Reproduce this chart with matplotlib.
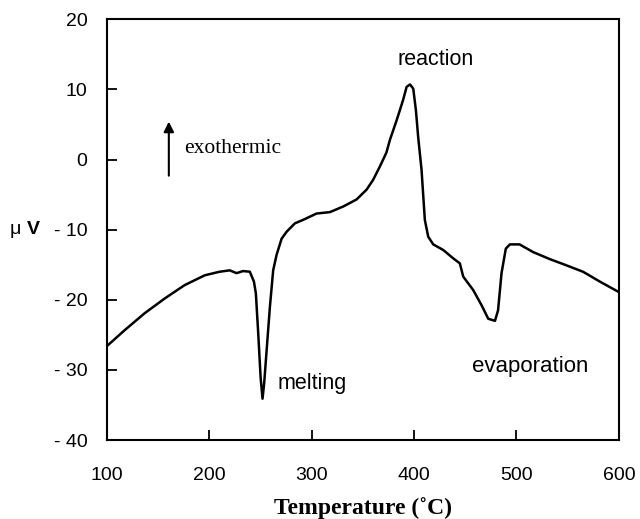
import numpy as np
from matplotlib import pyplot as plt

# DTA trace
temp = [100, 117.6, 137, 156.6, 176, 195.7, 210, 220, 226.6, 233, 239.6, 243.6, 245.5,
        247.8, 250.1, 252, 253.6, 256, 259.2, 262.4, 265.7, 270.6, 275.5, 283.6,
        291.7, 304.8, 317.8, 330.8, 343.8, 353.6, 360, 366.6, 373, 376.4, 383,
        389.3, 392.7, 396, 399.2, 401.8, 404, 407.3, 410.5, 413.8, 418.7, 428.5,
        438.3, 444.7, 448, 457.7, 466, 472.4, 479, 482, 485.4, 489.6, 493.6, 503,
        516.3, 532.6, 549, 565, 581.4, 600]
signal = [-26.6, -24.3, -21.9, -19.8, -17.9, -16.5, -16.0, -15.8, -16.2, -15.9, -16.0, -17.4, -19.1,
          -24.8, -31.0, -34.1, -31.9, -27.2, -21.0, -15.8, -13.6, -11.3, -10.3, -9.1,
          -8.6, -7.7, -7.5, -6.7, -5.7, -4.3, -2.9, -1.0, 1.0, 2.8, 5.6,
          8.5, 10.35, 10.7, 10.1, 7.0, 3.2, -1.5, -8.6, -11.0, -12.1, -12.9,
          -14.1, -14.8, -16.7, -18.6, -20.8, -22.7, -23.0, -21.5, -16.2, -12.7, -12.1, -12.1,
          -13.2, -14.2, -15.1, -16.0, -17.4, -18.9]

xticks = [100, 200, 300, 400, 500, 600]
yticks = [20, 10, 0, -10, -20, -30, -40]
ylabels = ["20", "10", "0", "- 10", "- 20", "- 30", "- 40"]

sans = "Liberation Sans"
serif = "Liberation Serif"

fig = plt.figure(figsize=(6.4, 5.19), dpi=100)
ax = fig.add_axes([0.167, 0.152, 0.800, 0.811])

ax.plot(temp, signal, color="black", lw=1.8)

ax.set_xlim(100, 600)
ax.set_ylim(-40, 20)
ax.set_xticks(xticks)
ax.set_yticks(yticks)
ax.set_xticklabels([str(t) for t in xticks], fontfamily=sans, fontsize=14)
ax.set_yticklabels(ylabels, fontfamily=sans, fontsize=14)
ax.tick_params(direction="in", length=7, width=1.3)
ax.tick_params(axis="x", pad=19)
ax.tick_params(axis="y", pad=14)
for s in ax.spines.values():
    s.set_linewidth(1.5)

ax.set_xlabel("Temperature (˚C)", fontfamily=serif, fontweight="bold", fontsize=17, labelpad=10)

# y label: mu V next to the -10 tick
fig.text(10 / 640, 1 - 230 / 519, "μ", fontfamily=sans, fontsize=14, ha="left", va="center")
fig.text(27 / 640, 1 - 230 / 519, "V", fontfamily=sans, fontsize=14, fontweight="bold",
         ha="left", va="center")

# annotations
ax.text(421, 14.3, "reaction", fontfamily=sans, fontsize=15.5, ha="center", va="center")
ax.text(266.5, -31.9, "melting", fontfamily=sans, fontsize=15.5, ha="left", va="center")
ax.text(456.5, -29.5, "evaporation", fontfamily=sans, fontsize=16, ha="left", va="center")
ax.text(175, 1.5, "exothermic", fontfamily=serif, fontsize=15.5, ha="left", va="center")
ax.annotate("", xy=(160.5, 5.8), xytext=(160.5, -2.7),
            arrowprops=dict(arrowstyle="-|>,head_width=0.3,head_length=0.6", color="black", lw=1.5))

fig.savefig("out.png", dpi=100)
